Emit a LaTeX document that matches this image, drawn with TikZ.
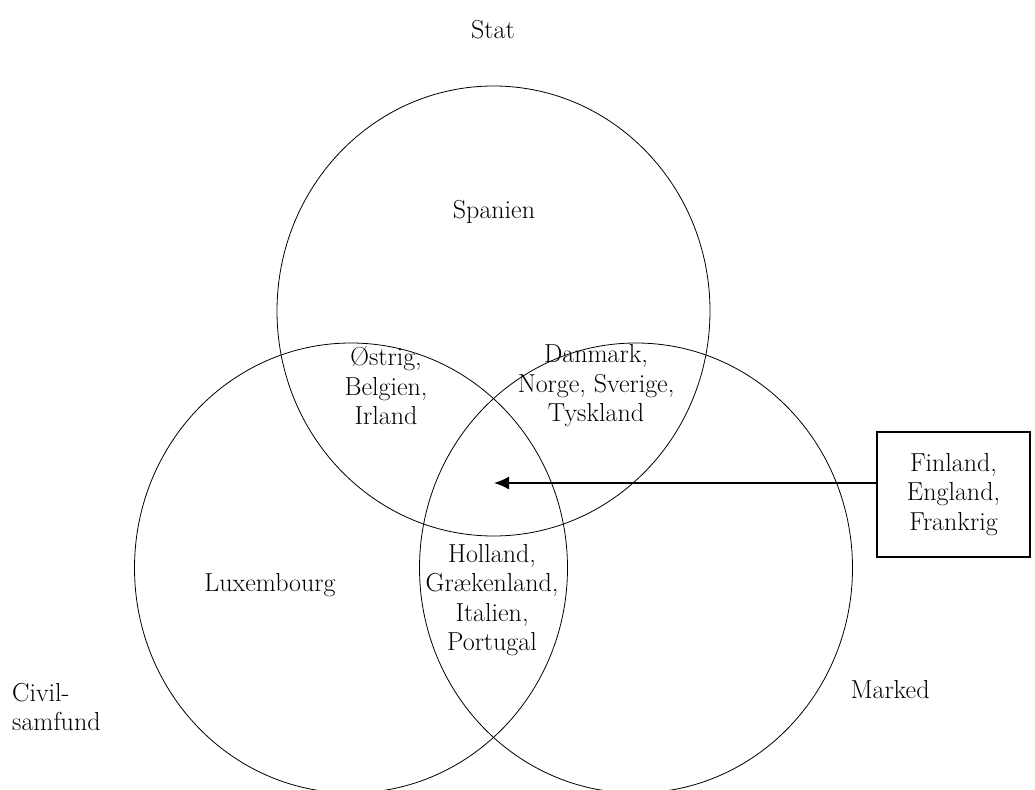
\documentclass[tikz,border=0pt]{standalone}
\usetikzlibrary{shapes.geometric,arrows.meta}
\begin{document}
\begin{tikzpicture}[x=1pt,y=-1pt,
  venn/.style={draw, ellipse, minimum width=433pt, minimum height=450pt, inner sep=0pt, outer sep=0pt, line width=0.8pt},
  lbl/.style={font=\fontsize{26}{29.5}\selectfont, align=center, inner sep=0pt},
  boxnode/.style={draw, line width=1.4pt, minimum width=153pt, minimum height=125pt, align=center, inner sep=0pt, font=\fontsize{26}{29.5}\selectfont}]
\useasboundingbox (0,0) rectangle (1035,789);
\clip (0,0) rectangle (1035,789);
\node[venn] (stat) at (493.5,311) {};
\node[venn] (civ) at (351,568) {};
\node[venn] (mark) at (636,568) {};
\node[lbl] (tstat) at (493,30) {Stat};
\node[lbl] (spanien) at (494,212) {Spanien};
\node[lbl] (oest) at (386,386) {Østrig,\\Belgien,\\Irland};
\node[lbl] (dan) at (596,386) {Danmark,\\Norge, Sverige,\\Tyskland};
\node[lbl] (lux) at (270,585) {Luxembourg};
\node[lbl] (hol) at (492,600) {Holland,\\Grækenland,\\Italien,\\Portugal};
\node[lbl, align=left, anchor=west] (tciv) at (12,707) {Civil-\\samfund};
\node[lbl] (tmark) at (890,690) {Marked};
\node[boxnode] (box) at (953.5,494.5) {Finland,\\England,\\Frankrig};
\coordinate (tip) at (494,483);
\draw[line width=1.4pt, -{Latex[length=15pt,width=13pt]}] (box.west |- tip) -- (tip);
\end{tikzpicture}
\end{document}
